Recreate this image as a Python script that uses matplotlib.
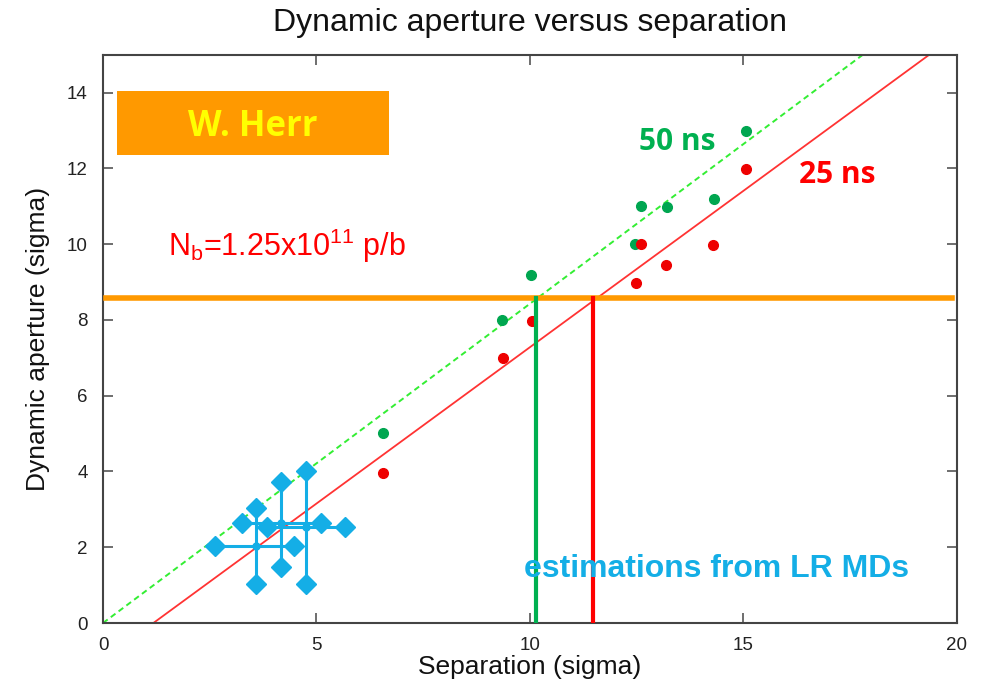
import matplotlib.pyplot as plt
import numpy as np

plt.rcParams['font.family'] = ['Liberation Sans', 'DejaVu Sans']
plt.rcParams['mathtext.fontset'] = 'custom'
plt.rcParams['mathtext.rm'] = 'Liberation Sans'

# simulated dynamic aperture, 50 ns and 25 ns
sep_50 = [6.55, 9.35, 10.02, 12.46, 12.59, 13.21, 14.3, 15.07]
da_50 = [5.02, 8.0, 9.19, 10.01, 11.01, 10.99, 11.19, 12.99]
sep_25 = [6.56, 9.37, 10.05, 12.6, 12.49, 13.19, 14.28, 15.06]
da_25 = [3.95, 6.99, 7.98, 10.0, 8.97, 9.46, 9.98, 11.98]

# fits: DA = slope * (sep - offset)
fit_50 = (0.843, 0.0)
fit_25 = (0.8256, 1.18)

# intensity limit and crossing points
da_limit = 8.57
cross_50 = 10.13
cross_25 = 11.48

# estimations from LR MDs: centre, x range, y range
md_x = [3.58, 4.16, 4.75]
md_y = [2.02, 2.65, 2.53]
md_xlo = [2.62, 3.25, 3.85]
md_xhi = [4.47, 5.10, 5.67]
md_ylo = [1.03, 1.47, 1.03]
md_yhi = [3.03, 3.73, 4.02]

fig = plt.figure(figsize=(9.82, 6.85), dpi=100)
ax = fig.add_axes([0.1049, 0.0905, 0.8696, 0.8295])

xx = np.array([0, 20])
ax.plot(xx, fit_50[0] * (xx - fit_50[1]), color='#33ee33', lw=1.4, ls=(0, (3, 2)), zorder=2)
ax.plot(xx, fit_25[0] * (xx - fit_25[1]), color='#ff3333', lw=1.3, zorder=2)

ax.plot(sep_50, da_50, 'o', color='#00a650', ms=7, zorder=3)
ax.plot(sep_25, da_25, 'o', color='#ee0000', ms=7, zorder=3)

ax.axhline(da_limit, xmin=0.003, xmax=0.994, color='#ff9900', lw=4, zorder=4)
ax.plot([cross_50, cross_50], [0, da_limit], color='#00b050', lw=3, zorder=4)
ax.plot([cross_25, cross_25], [0, da_limit], color='#ff0000', lw=3, zorder=4)

cyan = '#14aee6'
for i in range(len(md_x)):
    ax.plot([md_xlo[i], md_xhi[i]], [md_y[i], md_y[i]], color=cyan, lw=2.2, zorder=5)
    ax.plot([md_x[i], md_x[i]], [md_ylo[i], md_yhi[i]], color=cyan, lw=2.2, zorder=5)
    ax.plot([md_xlo[i], md_xhi[i], md_x[i], md_x[i]],
            [md_y[i], md_y[i], md_ylo[i], md_yhi[i]],
            'D', color=cyan, ms=10, zorder=6)
    ax.plot(md_x[i], md_y[i], 'o', color=cyan, ms=5, zorder=6)

ax.set_xlim(0, 20)
ax.set_ylim(0, 15)
ax.set_xticks([0, 5, 10, 15, 20])
ax.set_yticks([0, 2, 4, 6, 8, 10, 12, 14])
ax.tick_params(direction='in', length=7, width=1.2, color='#555555',
               labelsize=13.5, labelcolor='#222222', top=True, right=True)
ax.tick_params(axis='x', pad=10)
ax.tick_params(axis='y', pad=11)
for s in ax.spines.values():
    s.set_color('#444444')
    s.set_linewidth(1.5)

ax.set_xlabel('Separation (sigma)', fontsize=19, color='#111111', labelpad=1)
ax.set_ylabel('Dynamic aperture (sigma)', fontsize=19, color='#111111', labelpad=12)
ax.set_title('Dynamic aperture versus separation', fontsize=23, color='#111111', pad=17)

# W. Herr label
fig.patches.append(plt.Rectangle((117 / 982, 1 - 155 / 685), 272 / 982, 64 / 685,
                                 transform=fig.transFigure, fc='#ff9900', ec='none', zorder=0))
fig.text(253 / 982, 1 - 127 / 685, 'W. Herr', fontsize=25, fontweight='bold', color='#ffff00',
         family='Open Sans', ha='center', va='center')

ax.text(13.44, 12.7, '50 ns', fontsize=21.5, fontweight='bold', color='#00b050',
        family='Open Sans', ha='center', va='center')
ax.text(17.19, 11.83, '25 ns', fontsize=21.5, fontweight='bold', color='#ff0000',
        family='Open Sans', ha='center', va='center')
ax.text(1.52, 9.95, r'N$_\mathrm{b}$=1.25x10$^{11}$ p/b', fontsize=22, color='#ff0000',
        ha='left', va='center')
ax.text(14.38, 1.42, 'estimations from LR MDs', fontsize=23, fontweight='bold',
        color=cyan, ha='center', va='center', zorder=7)

plt.savefig('out.png', dpi=100)
